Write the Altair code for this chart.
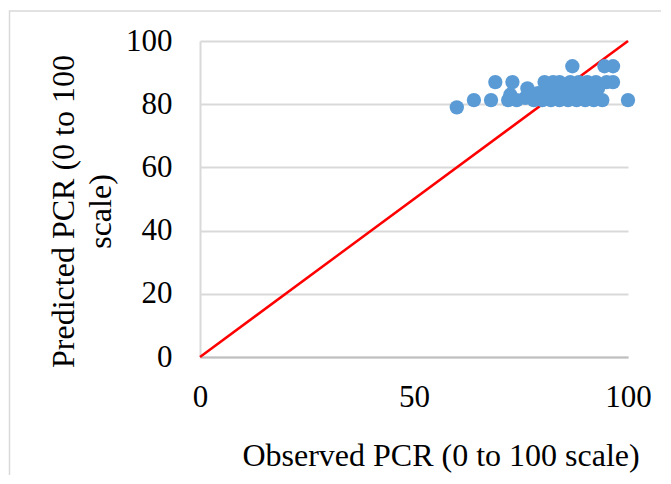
import altair as alt
import pandas as pd

# Observed vs predicted PCR (0-100 scale)
observed = [60, 64, 68, 69, 72, 73, 72.5, 74, 76, 76.5, 78, 79, 80, 80.5, 81, 82, 82.5, 83,
            84, 84, 85, 86, 86.5, 87, 87, 88, 88.5, 89, 90, 90.5, 91, 92, 92.5, 93, 94,
            94.5, 95, 96.5, 96.5, 100]
predicted = [79, 81.3, 81.3, 87, 81.3, 87, 83, 81.3, 82, 85, 81.3, 83.5, 81.3, 87, 84, 81.3, 87, 83.5,
             81.3, 87, 85, 81.3, 87, 92, 84, 81.3, 87, 84, 81.3, 87, 83.5, 81.3, 87, 85, 81.3,
             92, 87, 92, 87, 81.3]

# 1:1 reference line
ref_x = [0, 100]
ref_y = [0, 100]

x_ticks = [0, 50, 100]
y_ticks = [0, 20, 40, 60, 80, 100]

x_title = "Observed PCR (0 to 100 scale)"
y_title = ["Predicted PCR (0 to 100", "scale)"]

FONT = "Liberation Serif"

pts = pd.DataFrame({"obs": observed, "pred": predicted})
ref = pd.DataFrame({"obs": ref_x, "pred": ref_y})

xscale = alt.Scale(domain=[0, 100], nice=False, zero=True)
yscale = alt.Scale(domain=[0, 100], nice=False, zero=True)

xaxis = alt.Axis(values=x_ticks, grid=False, ticks=False, tickSize=0, domain=True,
                 domainColor="#bfbfbf", domainWidth=2,
                 labelFont=FONT, labelFontSize=31, labelColor="black", labelPadding=25,
                 labelFlush=False,
                 title=x_title, titleFont=FONT, titleFontSize=32, titleFontWeight="normal",
                 titleColor="black", titleX=240.5, titleY=108, titleAlign="center",
                 titleBaseline="alphabetic", titleAnchor="start")

yaxis = alt.Axis(values=y_ticks, grid=True, gridColor="#d9d9d9", gridWidth=2,
                 ticks=False, tickSize=0, domain=True, domainColor="#d9d9d9", domainWidth=2,
                 labelFont=FONT, labelFontSize=31, labelColor="black", labelPadding=28,
                 labelFlush=False,
                 title=y_title, titleFont=FONT, titleFontSize=32, titleFontWeight="normal",
                 titleColor="black", titleAngle=270, titleX=-137, titleY=170,
                 titleAlign="center", titleBaseline="middle", titleLineHeight=37,
                 titleAnchor="start")

frame = alt.Chart(alt.Data(values=[{}])).mark_rect(
    fillOpacity=0, stroke="#d9d9d9", strokeWidth=1.5
).encode(
    x=alt.value(-190.5), x2=alt.value(600),
    y=alt.value(-30), y2=alt.value(600)
)

line = alt.Chart(ref).mark_line(color="#ff0000", strokeWidth=2.5).encode(
    x=alt.X("obs:Q", scale=xscale, axis=xaxis),
    y=alt.Y("pred:Q", scale=yscale, axis=yaxis),
)

points = alt.Chart(pts).mark_circle(size=205, color="#5b9bd5", opacity=1).encode(
    x=alt.X("obs:Q", scale=xscale),
    y=alt.Y("pred:Q", scale=yscale),
)

chart = alt.layer(frame, line, points).properties(
    width=428, height=316,
    autosize=alt.AutoSizeParams(type="none"),
    padding={"left": 192, "top": 33, "right": 33, "bottom": 118},
    background="white",
).configure_view(stroke=None)

chart.save("out.html", embed_options={"renderer": "svg", "actions": False})
